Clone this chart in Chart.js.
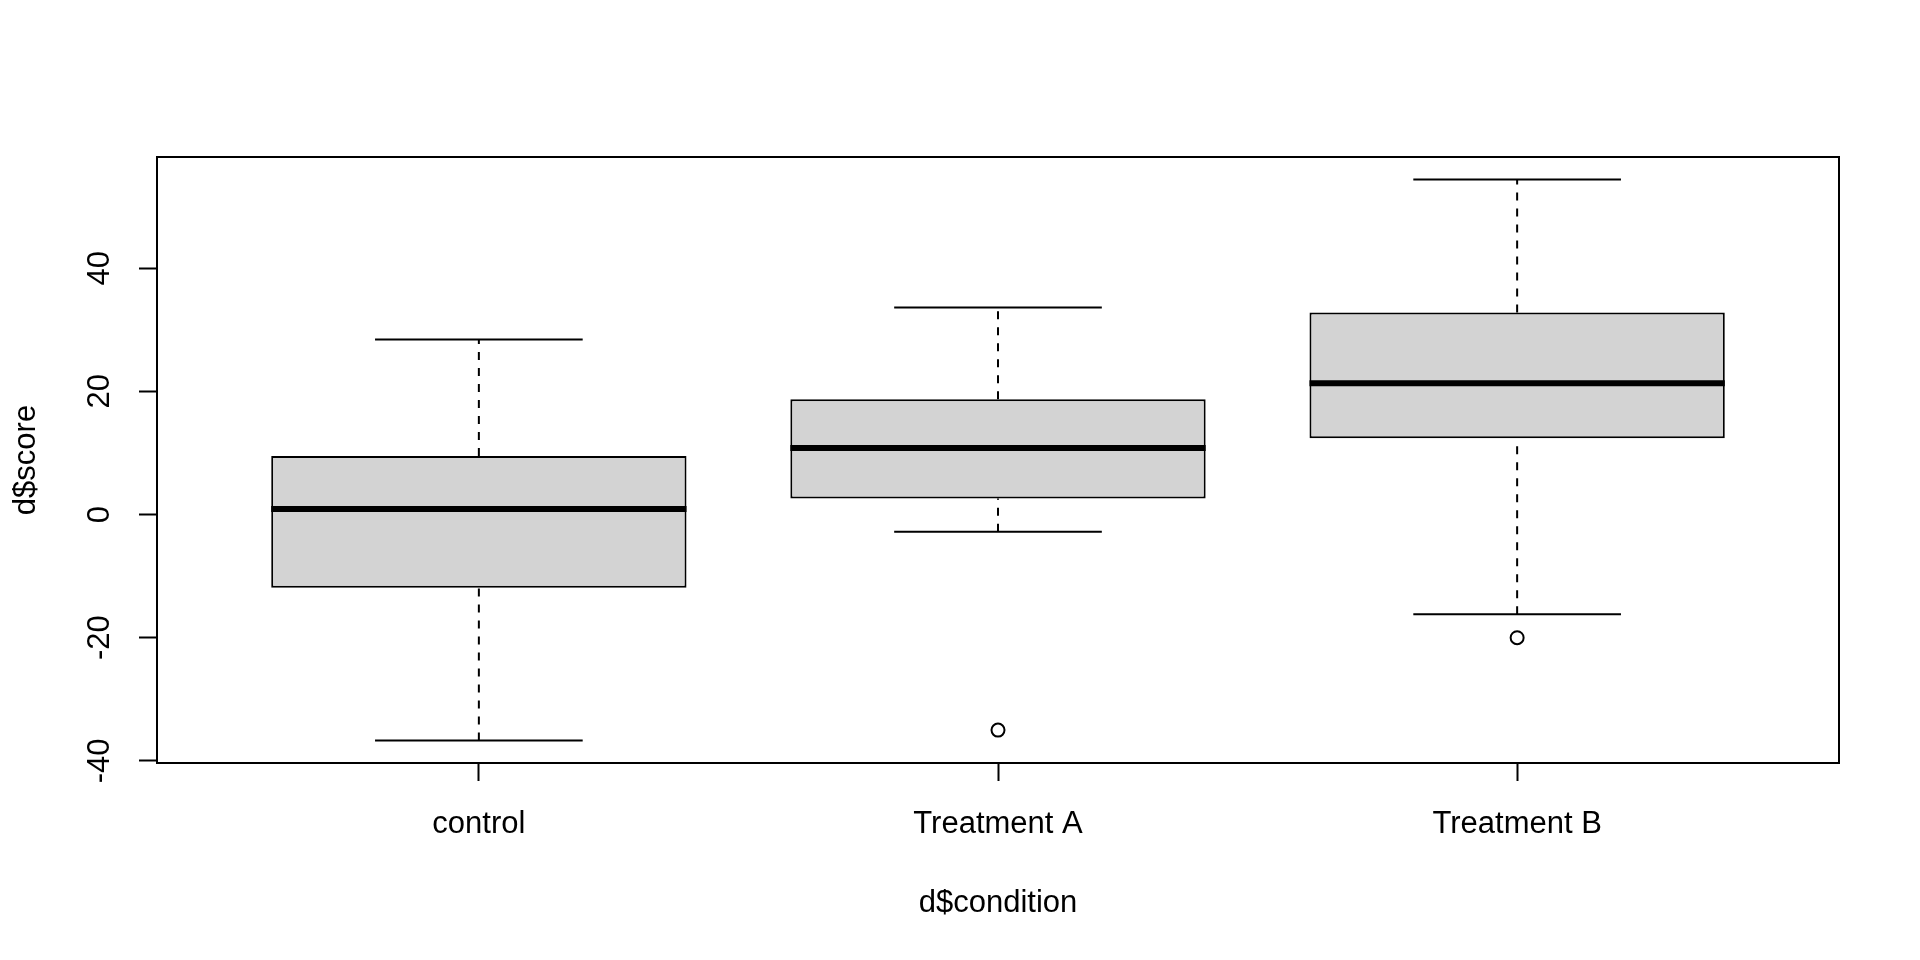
<!DOCTYPE html>
<html>
<head>
<meta charset="utf-8">
<title>d$score por d$condition</title>
<script src="https://cdn.jsdelivr.net/npm/chart.js@4.4.1/dist/chart.umd.min.js"></script>
<style>
    html, body { margin: 0; padding: 0; background: #ffffff; }
    #wrap { width: 1920px; height: 960px; position: relative; }
</style>
</head>
<body>
<div id="wrap"><canvas id="boxChart"></canvas></div>
<script>
// Datos del gráfico
const categories = ['control', 'Treatment A', 'Treatment B'];
const lowerWhisker = [-36.7, -2.8, -16.2];
const q1 = [-11.9, 2.6, 12.4];
const medians = [0.9, 10.8, 21.3];
const q3 = [9.5, 18.7, 32.8];
const upperWhisker = [28.4, 33.6, 54.4];
const outlierGroup = [2, 3];
const outlierValue = [-35.0, -20.0];
const yTicks = [-40, -20, 0, 20, 40];

// Configuración general
const FONT = '"Liberation Sans", Arial, Helvetica, sans-serif';
Chart.defaults.font.family = FONT;
Chart.defaults.color = '#000000';

const positions = categories.map((_, i) => i + 1);

// Rango de los ejes como en R (4% extra a cada lado)
const allValues = [...lowerWhisker, ...upperWhisker, ...outlierValue];
const dataMin = Math.min(...allValues);
const dataMax = Math.max(...allValues);
const pad = (dataMax - dataMin) * 0.04;
const xPad = positions.length * 0.04;

// Función para armar segmentos separados por huecos
const segments = (pairs) => {
    const out = [];
    pairs.forEach((p, i) => {
        if (i > 0) out.push({ x: p[0].x - 0.01, y: null });
        out.push(p[0], p[1]);
    });
    return out;
};

const boxData = positions.map((x, i) => ({ x: x, y: [q1[i], q3[i]] }));
const upperData = segments(positions.map((x, i) => [{ x: x, y: q3[i] }, { x: x, y: upperWhisker[i] }]));
const lowerData = segments(positions.map((x, i) => [{ x: x, y: lowerWhisker[i] }, { x: x, y: q1[i] }]));
const capData = segments(positions.flatMap((x, i) => [
    [{ x: x - 0.2, y: upperWhisker[i] }, { x: x + 0.2, y: upperWhisker[i] }],
    [{ x: x - 0.2, y: lowerWhisker[i] }, { x: x + 0.2, y: lowerWhisker[i] }]
]));
const medianData = segments(positions.map((x, i) => [{ x: x - 0.4, y: medians[i] }, { x: x + 0.4, y: medians[i] }]));
const outlierData = outlierGroup.map((g, i) => ({ x: g, y: outlierValue[i] }));

// Marco completo del área de trazado
const framePlugin = {
    id: 'frame',
    afterDatasetsDraw(chart) {
        const { ctx, chartArea: a } = chart;
        ctx.save();
        ctx.strokeStyle = '#000000';
        ctx.lineWidth = 2;
        ctx.strokeRect(a.left, a.top, a.right - a.left, a.bottom - a.top);
        ctx.restore();
    }
};

const lineStyle = (extra) => ({
    type: 'line',
    borderColor: '#000000',
    borderWidth: 2,
    pointRadius: 0,
    pointHoverRadius: 0,
    fill: false,
    spanGaps: false,
    tension: 0,
    ...extra
});

const ctx = document.getElementById('boxChart');
const boxChart = new Chart(ctx, {
    type: 'bar',
    data: {
        datasets: [
            lineStyle({ data: upperData, borderDash: [8, 8], order: 6 }),
            lineStyle({ data: lowerData, borderDash: [8, 8], order: 6 }),
            {
                type: 'bar',
                data: boxData,
                backgroundColor: '#d3d3d3',
                borderColor: '#000000',
                borderWidth: 2,
                borderSkipped: false,
                barPercentage: 0.8,
                categoryPercentage: 1.0,
                order: 4
            },
            lineStyle({ data: capData, order: 3 }),
            lineStyle({ data: medianData, borderWidth: 6, borderCapStyle: 'butt', order: 2 }),
            {
                type: 'scatter',
                data: outlierData,
                pointStyle: 'circle',
                pointRadius: 6.5,
                pointBorderWidth: 2,
                pointBackgroundColor: 'rgba(0,0,0,0)',
                pointBorderColor: '#000000',
                order: 1
            }
        ]
    },
    options: {
        responsive: true,
        maintainAspectRatio: false,
        animation: false,
        layout: { padding: { top: 157, right: 81, left: 0, bottom: 0 } },
        plugins: {
            legend: { display: false },
            tooltip: { enabled: false }
        },
        scales: {
            x: {
                type: 'linear',
                offset: false,
                min: 0.5 - xPad,
                max: positions.length + 0.5 + xPad,
                afterBuildTicks: (scale) => {
                    scale.ticks = positions.map(v => ({ value: v }));
                },
                afterFit: (scale) => { scale.height = 197; },
                grid: {
                    display: true,
                    offset: false,
                    drawOnChartArea: false,
                    drawTicks: true,
                    tickLength: 18,
                    tickWidth: 2,
                    tickColor: '#000000'
                },
                border: { display: true, color: '#000000', width: 2 },
                ticks: {
                    autoSkip: false,
                    maxRotation: 0,
                    padding: 25,
                    font: { size: 31 },
                    callback: (value) => categories[value - 1] || ''
                },
                title: {
                    display: true,
                    text: 'd$condition',
                    font: { size: 31 },
                    padding: { top: 0, bottom: 38 }
                }
            },
            y: {
                type: 'linear',
                min: dataMin - pad,
                max: dataMax + pad,
                afterBuildTicks: (scale) => {
                    scale.ticks = yTicks.map(v => ({ value: v }));
                },
                afterFit: (scale) => { scale.width = 157; },
                grid: {
                    display: true,
                    drawOnChartArea: false,
                    drawTicks: true,
                    tickLength: 18,
                    tickWidth: 2,
                    tickColor: '#000000'
                },
                border: { display: true, color: '#000000', width: 2 },
                ticks: {
                    minRotation: 90,
                    maxRotation: 90,
                    crossAlign: 'center',
                    padding: 16,
                    font: { size: 31 }
                },
                title: {
                    display: true,
                    text: 'd$score',
                    font: { size: 31 },
                    padding: { top: 8, bottom: 0 }
                }
            }
        }
    },
    plugins: [framePlugin]
});
</script>
</body>
</html>
